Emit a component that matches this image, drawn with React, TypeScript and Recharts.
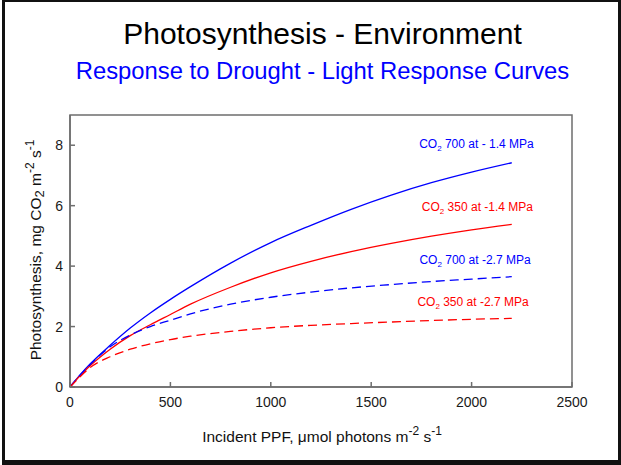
import React from "react";
import {
  LineChart,
  Line,
  XAxis,
  YAxis,
  ReferenceArea,
  ReferenceDot,
} from "recharts";

// incident PPF, umol photons m-2 s-1
const ppf = [0, 50, 100, 200, 300, 400, 500, 600, 800, 1000, 1200, 1400, 1600, 1800, 2000, 2200];

// photosynthesis, mg CO2 m-2 s-1
const co2700Wet = [0, 0.4, 0.76, 1.38, 1.95, 2.45, 2.9, 3.32, 4.1, 4.78, 5.35, 5.88, 6.35, 6.76, 7.11, 7.42];
const co2350Wet = [0, 0.37, 0.7, 1.25, 1.7, 2.06, 2.4, 2.74, 3.3, 3.78, 4.16, 4.48, 4.75, 4.99, 5.2, 5.38];
const co2700Dry = [0, 0.39, 0.74, 1.33, 1.72, 2.0, 2.21, 2.42, 2.74, 2.97, 3.14, 3.28, 3.39, 3.49, 3.57, 3.65];
const co2350Dry = [0, 0.34, 0.64, 1.0, 1.25, 1.43, 1.57, 1.68, 1.84, 1.96, 2.04, 2.1, 2.15, 2.2, 2.24, 2.27];

const xTicks = [0, 500, 1000, 1500, 2000, 2500];
const yTicks = [0, 2, 4, 6, 8];

const notes = [
  { x: 2024, y: 7.9, rest: " 700 at - 1.4 MPa", color: "#0000ff" },
  { x: 2029, y: 5.82, rest: " 350 at -1.4 MPa", color: "#ff0000" },
  { x: 2017, y: 4.07, rest: " 700 at -2.7 MPa", color: "#0000ff" },
  { x: 2007, y: 2.68, rest: " 350 at -2.7 MPa", color: "#ff0000" },
];

const rows = ppf.map((x, i) => ({
  ppf: x,
  wet700: co2700Wet[i],
  wet350: co2350Wet[i],
  dry700: co2700Dry[i],
  dry350: co2350Dry[i],
}));

const FONT = "'Liberation Sans', Arial, sans-serif";
const AXIS = "#6e6e6e";

const noteLabel = (text: string, color: string) => (props: any) => {
  const vb = props.viewBox || {};
  return (
    <text x={vb.x} y={vb.y} textAnchor="middle" fill={color} fontFamily={FONT} fontSize={12}>
      <tspan>CO</tspan>
      <tspan dy={3} fontSize={8}>2</tspan>
      <tspan dy={-3}>{text}</tspan>
    </text>
  );
};

const xLabel = (props: any) => {
  const vb = props.viewBox || {};
  return (
    <text x={vb.x + vb.width / 2 + 1} y={442} textAnchor="middle" fill="#111" fontFamily={FONT} fontSize={15.5}>
      <tspan>Incident PPF, μmol photons m</tspan>
      <tspan dy={-7} fontSize={12}>-2</tspan>
      <tspan dy={7}> s</tspan>
      <tspan dy={-7} fontSize={12}>-1</tspan>
    </text>
  );
};

const yLabel = () => {
  const cx = 41;
  const cy = 250;
  return (
    <text
      x={cx}
      y={cy}
      transform={`rotate(-90 ${cx} ${cy})`}
      textAnchor="middle"
      fill="#111"
      fontFamily={FONT}
      fontSize={15.5}
    >
      <tspan>Photosynthesis, mg CO</tspan>
      <tspan dy={3} fontSize={13}>2</tspan>
      <tspan dy={-3}> m</tspan>
      <tspan dy={-7} fontSize={12}>-2</tspan>
      <tspan dy={7}> s</tspan>
      <tspan dy={-7} fontSize={12}>-1</tspan>
    </text>
  );
};

export default function App() {
  return (
    <div style={{ position: "absolute", left: 0, top: 0, width: 621, height: 465, background: "#fff" }}>
      <div
        style={{
          position: "absolute",
          left: 2,
          top: 0,
          width: 619,
          height: 465,
          borderLeft: "3px solid #111",
          borderTop: "2px solid #111",
          borderRight: "3px solid #111",
          borderBottom: "5px solid #111",
          boxSizing: "border-box",
        }}
      />
      <div
        style={{
          position: "absolute",
          left: 0,
          width: 645,
          top: 16,
          textAlign: "center",
          fontFamily: FONT,
          fontSize: 30,
          color: "#000",
          lineHeight: "36px",
        }}
      >
        Photosynthesis - Environment
      </div>
      <div
        style={{
          position: "absolute",
          left: 0,
          width: 645,
          top: 58,
          textAlign: "center",
          fontFamily: FONT,
          fontSize: 23.8,
          color: "#0000ff",
          lineHeight: "26px",
        }}
      >
        Response to Drought - Light Response Curves
      </div>
      <div style={{ position: "absolute", left: 0, top: 0 }}>
        <LineChart width={621} height={465} data={rows} margin={{ top: 115, right: 49, left: 0, bottom: 0 }}>
          <ReferenceArea
            x1={0}
            x2={2500}
            y1={0}
            y2={9}
            fill="none"
            stroke={AXIS}
            strokeWidth={1.5}
            ifOverflow="visible"
          />
          <XAxis
            dataKey="ppf"
            type="number"
            domain={[0, 2500]}
            ticks={xTicks}
            height={78}
            tickSize={-5}
            tickMargin={15}
            stroke={AXIS}
            strokeWidth={1.5}
            tick={{ fill: "#1a1a1a", fontSize: 14, fontFamily: FONT }}
            label={{ content: xLabel }}
          />
          <YAxis
            type="number"
            domain={[0, 9]}
            ticks={yTicks}
            width={70}
            tickSize={-5}
            tickMargin={12}
            stroke={AXIS}
            strokeWidth={1.5}
            tick={{ fill: "#1a1a1a", fontSize: 14, fontFamily: FONT }}
            label={{ content: yLabel }}
          />
          <Line type="monotone" dataKey="wet700" stroke="#0000ff" strokeWidth={1.3} dot={false} isAnimationActive={false} />
          <Line type="monotone" dataKey="wet350" stroke="#ff0000" strokeWidth={1.3} dot={false} isAnimationActive={false} />
          <Line
            type="monotone"
            dataKey="dry700"
            stroke="#0000ff"
            strokeWidth={1.3}
            strokeDasharray="9 5"
            dot={false}
            isAnimationActive={false}
          />
          <Line
            type="monotone"
            dataKey="dry350"
            stroke="#ff0000"
            strokeWidth={1.3}
            strokeDasharray="9 5"
            dot={false}
            isAnimationActive={false}
          />
          {notes.map((n) => (
            <ReferenceDot
              key={n.rest}
              x={n.x}
              y={n.y}
              r={0}
              stroke="none"
              fill="none"
              ifOverflow="visible"
              label={{ content: noteLabel(n.rest, n.color) }}
            />
          ))}
        </LineChart>
      </div>
    </div>
  );
}
